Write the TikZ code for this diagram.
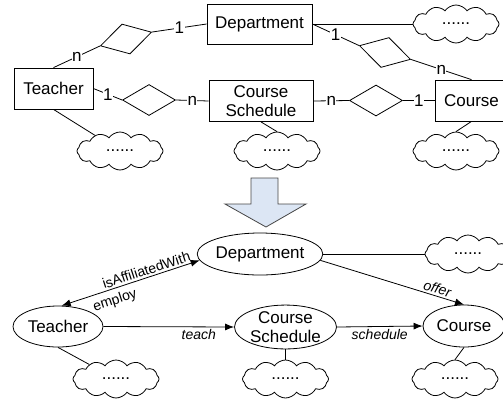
\documentclass[tikz,border=0pt]{standalone}
\usepackage{fontspec}
\setmainfont{Liberation Sans}
\usetikzlibrary{shapes.geometric,shapes.symbols,arrows.meta}

\definecolor{arrowfill}{RGB}{220,230,244}
\definecolor{arrowline}{RGB}{70,70,70}

\tikzset{
  base/.style={font=\fontsize{17}{19}\selectfont, line width=0.8pt},
  entity/.style={base, draw, rectangle, align=center, inner sep=0pt},
  rel/.style={draw, diamond, line width=0.8pt, inner sep=0pt, minimum width=53pt, minimum height=31pt},
  concept/.style={base, draw, ellipse, align=center, inner sep=0pt},
  puff/.style={draw, cloud, cloud puffs=12, cloud puff arc=110, cloud ignores aspect,
    minimum width=86pt, minimum height=38pt, inner sep=0pt, line width=0.8pt,
    font=\fontsize{17}{19}\selectfont},
  card/.style={font=\fontsize{17}{19}\selectfont, fill=white, inner sep=0.5pt},
  link/.style={line width=0.8pt},
  prop/.style={line width=0.8pt, -{Latex[length=9pt,width=7pt]}},
  plabel/.style={font=\fontsize{14}{16}\selectfont\itshape, inner sep=2pt},
  ulabel/.style={font=\fontsize{14}{16}\selectfont, inner sep=2pt},
  turn/.style={draw=arrowline, fill=arrowfill, line width=0.8pt, line join=miter}
}

\begin{document}
\begin{tikzpicture}[x=1pt, y=-1pt]
\useasboundingbox (0,0) rectangle (503,400);

% ---------- ER diagram ----------
\node[entity, minimum width=105pt, minimum height=40pt] (dept) at (259.5,24) {Department};
\node[entity, minimum width=79pt, minimum height=41pt] (teacher) at (53.5,88.5) {Teacher};
\node[entity, minimum width=104pt, minimum height=41pt] (sched) at (261,101) {Course\\Schedule};
\node[entity, minimum width=73pt, minimum height=41pt] (course) at (471.5,100.5) {Course};

\node[rel, rotate=15] (r1) at (126,39) {};
\node[rel] (r2) at (149,100) {};
\node[rel, rotate=-15] (r3) at (385,52.5) {};
\node[rel] (r4) at (376,100.5) {};

\node[puff] (tc1) at (120,151) {......};
\node[puff] (sc1) at (277,151) {......};
\node[puff] (cc1) at (456,151) {......};
\node[puff] (dc1) at (456,24) {......};

\draw[link] (teacher.north) -- node[card] {n} (r1.west);
\draw[link] (r1.east) -- node[card] {1} (dept.west);
\draw[link] (teacher.east) -- node[card] {1} (r2.west);
\draw[link] (r2.east) -- node[card] {n} (sched.west);
\draw[link] (dept.east) -- node[card] {1} (r3.west);
\draw[link] (r3.east) -- node[card] {n} (course.north);
\draw[link] (sched.east) -- node[card] {n} (r4.west);
\draw[link] (r4.east) -- node[card] {1} (course.west);

\draw[link] (teacher.south) -- (tc1);
\draw[link] (sched.south) -- (sc1.north);
\draw[link] (course.south) -- (cc1.north);
\draw[link] (dept.east) -- (dc1.west);

% ---------- transformation arrow ----------
\path[turn] (251,178) -- (278,178) -- (278,204) -- (306,204) -- (266,227)
  -- (225,204) -- (251,204) -- cycle;

% ---------- ontology graph ----------
\node[concept, minimum width=122pt, minimum height=42pt] (odept) at (260,254) {Department};
\node[concept, minimum width=90pt, minimum height=41pt] (oteacher) at (58,326.5) {Teacher};
\node[concept, minimum width=102pt, minimum height=43pt] (osched) at (285.5,327) {Course\\Schedule};
\node[concept, minimum width=82pt, minimum height=42pt] (ocourse) at (464,326) {Course};

\node[puff] (tc2) at (116,379) {......};
\node[puff] (sc2) at (285.5,379) {......};
\node[puff] (cc2) at (455,379) {......};
\node[puff] (dc2) at (468,254) {......};

\draw[line width=0.8pt, {Latex[length=9pt,width=7pt]}-{Latex[length=9pt,width=7pt]}]
  (oteacher.80) -- node[ulabel, sloped, anchor=south, pos=0.63] {isAffiliatedWith}
                   node[ulabel, sloped, anchor=north, pos=0.36, inner sep=5pt] {employ} (odept.186);
\draw[prop] (odept.-6) -- node[plabel, sloped, anchor=south, pos=0.8] {offer} (ocourse.north);
\draw[prop] (oteacher.east) -- node[plabel, anchor=north, pos=0.73] {teach} (osched.west);
\draw[prop] (osched.east) -- node[plabel, anchor=north] {schedule} (ocourse.west);

\draw[link] (odept.east) -- (dc2.west);
\draw[link] (oteacher.south) -- (tc2);
\draw[link] (osched.south) -- (sc2.north);
\draw[link] (ocourse.south) -- (cc2.north);
\end{tikzpicture}
\end{document}
